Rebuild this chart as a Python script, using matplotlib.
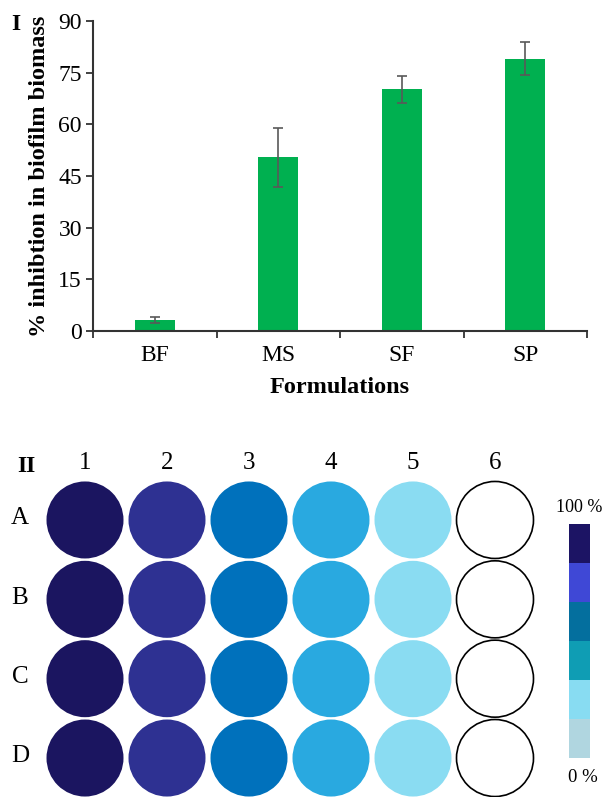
import matplotlib
matplotlib.use("Agg")
import matplotlib.pyplot as plt
from matplotlib.patches import Ellipse
from matplotlib.colors import ListedColormap
import matplotlib.colorbar as mcolorbar
import numpy as np

plt.rcParams['font.family'] = ['Liberation Serif', 'DejaVu Serif']

# ---- data ----
categories = ["BF", "MS", "SF", "SP"]
inhibition = [3.2, 50.4, 70.2, 79.1]
errors = [0.8, 8.5, 3.9, 4.7]
yticks = [0, 15, 30, 45, 60, 75, 90]

plate_cols = ["1", "2", "3", "4", "5", "6"]
plate_rows = ["A", "B", "C", "D"]
col_colors = ["#1b1560", "#2e3192", "#0071bc", "#29a9e0", "#8adcf2", "#ffffff"]
scale_colors = ["#1c1464", "#3f48d6", "#046f9e", "#0f9db4", "#88dcf2", "#b0d6e0"]
scale_labels = ["100 %", "0 %"]

W, H = 604, 797
fig = plt.figure(figsize=(W / 100, H / 100), dpi=100)

def px(x0, y0, x1, y1):
    return [x0 / W, (H - y1) / H, (x1 - x0) / W, (y1 - y0) / H]

# ---- Panel I ----
ax = fig.add_axes(px(93, 21, 587, 331))
x = np.arange(len(categories))
ax.bar(x, inhibition, width=0.32, color="#00b050", zorder=2)
ax.errorbar(x, inhibition, yerr=errors, fmt="none", ecolor="#595959",
            elinewidth=1.2, capsize=3.5, capthick=1.2, zorder=3)
ax.set_xlim(-0.5, len(categories) - 0.5)
ax.set_ylim(0, 90)
ax.set_yticks(yticks)
ax.set_xticks(x)
ax.set_xticklabels(categories)
ax.set_xticks(np.arange(-0.5, len(categories)), minor=True)
ax.tick_params(axis="x", which="major", length=0, labelsize=17, pad=10)
ax.tick_params(axis="x", which="minor", length=5, width=1.3, color="#333333")
ax.tick_params(axis="y", length=5, width=1.3, color="#333333", labelsize=17, pad=3)
for s in ["top", "right"]:
    ax.spines[s].set_visible(False)
for s in ["left", "bottom"]:
    ax.spines[s].set_linewidth(1.5)
    ax.spines[s].set_color("#333333")
ax.set_xlabel("Formulations", fontsize=17.5, fontweight="bold", labelpad=8)
ax.set_ylabel("% inhibtion in biofilm biomass", fontsize=17.5, fontweight="bold", labelpad=6)
fig.text(16 / W, 1 - 25 / H, "I", fontsize=17, fontweight="bold", va="center", ha="center")

# ---- Panel II ----
pax = fig.add_axes(px(44, 480.3, 536, 797.7))
pax.set_xlim(0.5, len(plate_cols) + 0.5)
pax.set_ylim(len(plate_rows) - 0.5, -0.5)
pax.axis("off")
cw = 77 / 82
ch = 77 / 79.33
for r, rl in enumerate(plate_rows):
    for c, cl in enumerate(plate_cols):
        color = col_colors[c]
        ec = "black" if color == "#ffffff" else "none"
        pax.add_patch(Ellipse((c + 1, r), cw, ch, facecolor=color, edgecolor=ec,
                              linewidth=1.2, clip_on=False))
    pax.text(0.207, r - 0.02, rl, fontsize=18, ha="center", va="center", clip_on=False)
for c, cl in enumerate(plate_cols):
    pax.text(c + 1, -0.72, cl, fontsize=18, ha="center", va="center", clip_on=False)
fig.text(26 / W, 1 - 467 / H, "II", fontsize=17, fontweight="bold", va="center", ha="center")

# colour scale
cax = fig.add_axes(px(569, 524, 590, 758))
cmap = ListedColormap(scale_colors[::-1])
cb = mcolorbar.ColorbarBase(cax, cmap=cmap, orientation="vertical")
cb.set_ticks([])
cb.outline.set_visible(False)
fig.text(602 / W, 1 - 508 / H, scale_labels[0], fontsize=13, ha="right", va="center")
fig.text(568 / W, 1 - 778 / H, scale_labels[1], fontsize=13.5, ha="left", va="center")

fig.savefig("out.png", dpi=100)
